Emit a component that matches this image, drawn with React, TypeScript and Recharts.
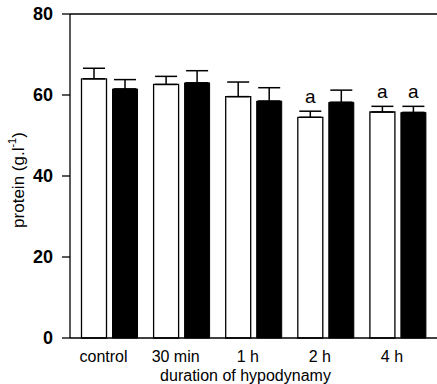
import { BarChart, Bar, XAxis, YAxis, ErrorBar, LabelList, ReferenceLine } from 'recharts';

const categories = ['control', '30 min', '1 h', '2 h', '4 h'];
const whiteMeans = [64, 62.6, 59.6, 54.5, 55.8];
const whiteErr = [2.6, 2.0, 3.6, 1.5, 1.4];
const blackMeans = [61.5, 63, 58.5, 58.2, 55.7];
const blackErr = [2.3, 3.0, 3.3, 3.0, 1.5];
const whiteSig = ['', '', '', 'a', 'a'];
const blackSig = ['', '', '', '', 'a'];
const yTicks = [0, 20, 40, 60, 80];

const FONT = '"Liberation Sans", Arial, sans-serif';

const data = categories.map((name, i) => ({
  name,
  white: whiteMeans[i],
  whiteErr: [0, whiteErr[i]],
  whiteSig: whiteSig[i],
  black: blackMeans[i],
  blackErr: [0, blackErr[i]],
  blackSig: blackSig[i],
}));

// letter sits a few px above the top of the error bar
const sigLabel = (means: number[], errs: number[]) => (props: any) => {
  const { x, y, width, height, value, index } = props;
  if (!value) return null;
  const errPx = (errs[index] * height) / means[index];
  return (
    <text x={x + width / 2} y={y - errPx - 8} textAnchor="middle" fontSize={19} fontFamily={FONT} fill="#000">
      {value}
    </text>
  );
};

const XTick = (props: any) => {
  const { x, y, payload } = props;
  return (
    <text x={x - 6} y={y} dy="0.71em" textAnchor="middle" fontSize={16} fontFamily={FONT} fill="#000">
      {payload.value}
    </text>
  );
};

export default function App() {
  return (
    <div style={{ position: 'absolute', left: 0, top: 0, background: '#fff' }}>
      <BarChart
        width={437}
        height={384}
        data={data}
        margin={{ top: 14, right: 0, bottom: 0, left: 0 }}
        barSize={25}
        barGap={6}
      >
        <XAxis
          dataKey="name"
          height={46}
          tickLine={false}
          tickSize={6}
          tickMargin={7}
          padding={{ left: 3.5, right: 3 }}
          stroke="#000"
          strokeWidth={1.3}
          tick={<XTick />}
          label={({ viewBox }: any) => (
            <text
              x={viewBox.x + viewBox.width / 2 - 8}
              y={381}
              textAnchor="middle"
              fontSize={16}
              fontFamily={FONT}
              fill="#000"
            >
              duration of hypodynamy
            </text>
          )}
        />
        <YAxis
          width={70}
          domain={[0, 80]}
          ticks={yTicks}
          tickSize={8}
          tickMargin={9}
          stroke="#000"
          strokeWidth={1.3}
          tick={{ fontSize: 18, fontFamily: FONT, fill: '#000', fontWeight: 'bold' }}
          label={({ viewBox }: any) => {
            const cy = viewBox.y + viewBox.height / 2 + 4;
            return (
              <text
                x={18}
                y={cy}
                transform={`rotate(-90, 18, ${cy})`}
                textAnchor="middle"
                dominantBaseline="central"
                fontSize={17}
                fontFamily={FONT}
                fill="#000"
              >
                protein (g.l
                <tspan fontSize={11} dy={-6}>-1</tspan>
                <tspan dy={6}>)</tspan>
              </text>
            );
          }}
        />
        <ReferenceLine y={80} stroke="#000" strokeWidth={1.3} />
        <Bar dataKey="white" fill="#fff" stroke="#000" strokeWidth={1.3} isAnimationActive={false}>
          <ErrorBar dataKey="whiteErr" width={11} stroke="#000" strokeWidth={1.5} />
          <LabelList dataKey="whiteSig" content={sigLabel(whiteMeans, whiteErr)} />
        </Bar>
        <Bar dataKey="black" fill="#000" stroke="#000" strokeWidth={1} isAnimationActive={false}>
          <ErrorBar dataKey="blackErr" width={11} stroke="#000" strokeWidth={1.5} />
          <LabelList dataKey="blackSig" content={sigLabel(blackMeans, blackErr)} />
        </Bar>
      </BarChart>
    </div>
  );
}
